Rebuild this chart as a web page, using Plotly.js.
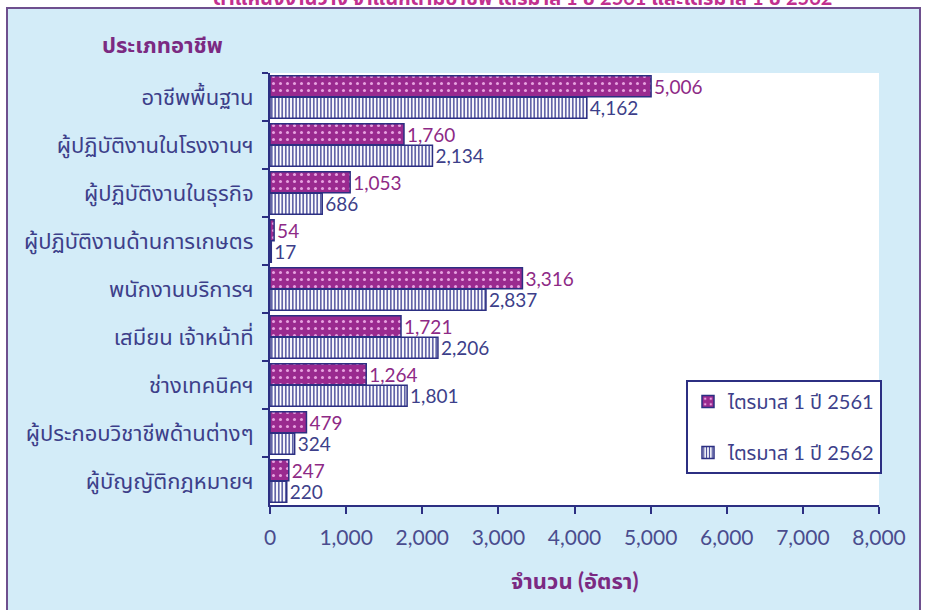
<!DOCTYPE html>
<html>
<head>
<meta charset="utf-8">
<script src="https://cdn.plot.ly/plotly-3.0.1.min.js"></script>
<style>html,body{margin:0;padding:0;background:#fff;}#chart{width:926px;height:610px;}</style>
</head>
<body>
<div id="chart"></div>
<script>
const categories = [
  'อาชีพพื้นฐาน',
  'ผู้ปฏิบัติงานในโรงงานฯ',
  'ผู้ปฏิบัติงานในธุรกิจ',
  'ผู้ปฏิบัติงานด้านการเกษตร',
  'พนักงานบริการฯ',
  'เสมียน เจ้าหน้าที่',
  'ช่างเทคนิคฯ',
  'ผู้ประกอบวิชาชีพด้านต่างๆ',
  'ผู้บัญญัติกฎหมายฯ'
];
const values2561 = [5006, 1760, 1053, 54, 3316, 1721, 1264, 479, 247];
const values2562 = [4162, 2134, 686, 17, 2837, 2206, 1801, 324, 220];
const seriesNames = ['ไตรมาส 1 ปี 2561', 'ไตรมาส 1 ปี 2562'];
const xTicks = [0, 1000, 2000, 3000, 4000, 5000, 6000, 7000, 8000];
const titleText = 'ตำแหน่งงานว่าง จำแนกตามอาชีพ ไตรมาส 1 ปี 2561 และไตรมาส 1 ปี 2562';
const yTitle = 'ประเภทอาชีพ';
const xTitle = 'จำนวน (อัตรา)';

const FONT = "Lato, 'Noto Sans Thai', 'Noto Sans', sans-serif";
const NAVY = '#2c2f82';
const PURPLE = '#8e2a86';

const traces = [
  {
    type: 'bar', orientation: 'h', name: seriesNames[0], legendgroup: 'a',
    y: categories, x: values2561,
    marker: {color: '#9a2a8f', line: {color: NAVY, width: 1.5},
      pattern: {shape: '.', fgcolor: '#e7a2e0', bgcolor: '#9a2a8f', size: 7, solidity: 0.15}},
    texttemplate: '%{x:,.0f}', textposition: 'outside', cliponaxis: false, constraintext: 'none',
    textfont: {family: FONT, size: 19, color: PURPLE},
    hoverinfo: 'skip'
  },
  {
    type: 'bar', orientation: 'h', name: seriesNames[1], legendgroup: 'b',
    y: categories, x: values2562,
    marker: {color: '#ffffff', line: {color: NAVY, width: 1.5},
      pattern: {shape: '|', fgcolor: '#3a3d92', bgcolor: '#ffffff', size: 3.5, solidity: 0.4}},
    texttemplate: '%{x:,.0f}', textposition: 'outside', cliponaxis: false, constraintext: 'none',
    textfont: {family: FONT, size: 19, color: '#3d3f8a'},
    hoverinfo: 'skip'
  }
];

const L = 270, R = 47, T = 73, B = 105;
const W = 926 - L - R, H = 610 - T - B;
const px = v => (v - L) / W;
const py = v => (610 - B - v) / H;

const layout = {
  width: 926, height: 610,
  margin: {l: L, r: R, t: T, b: B, pad: 0},
  paper_bgcolor: '#ffffff',
  plot_bgcolor: '#ffffff',
  barmode: 'group', bargap: 0.1, bargroupgap: 0.03,
  font: {family: FONT, color: '#3d3f8a'},
  showlegend: true,
  legend: {
    x: px(882), y: py(380), xanchor: 'right', yanchor: 'top',
    bgcolor: '#ffffff', bordercolor: NAVY, borderwidth: 2,
    font: {family: FONT, size: 20, color: '#3d3f8a'},
    tracegroupgap: 22, traceorder: 'grouped'
  },
  xaxis: {
    range: [0, 8000], tickvals: xTicks, tickformat: ',d',
    showgrid: false, zeroline: false,
    showline: true, linecolor: NAVY, linewidth: 2,
    ticks: 'outside', ticklen: 7, tickwidth: 2, tickcolor: NAVY,
    ticklabelstandoff: 6,
    tickfont: {family: FONT, size: 21, color: '#4a4c8e'},
    fixedrange: true
  },
  yaxis: {
    type: 'category', autorange: 'reversed',
    showgrid: false, zeroline: false,
    showline: true, linecolor: NAVY, linewidth: 2,
    ticks: 'outside', ticklen: 6, tickwidth: 2, tickcolor: NAVY,
    tickson: 'boundaries',
    ticklabelstandoff: 10,
    tickfont: {family: FONT, size: 22, color: '#3d3f8a'},
    fixedrange: true
  },
  shapes: [
    {type: 'rect', xref: 'paper', yref: 'paper', layer: 'below',
      x0: px(7), x1: px(920), y0: py(640), y1: py(8),
      fillcolor: '#d3ecf8', line: {color: '#6e4f8e', width: 2}},
    {type: 'rect', xref: 'paper', yref: 'paper', layer: 'below',
      x0: 0, x1: 1, y0: 0, y1: 1,
      fillcolor: '#ffffff', line: {width: 0}}
  ],
  annotations: [
    {text: '<b>' + titleText + '</b>', xref: 'paper', yref: 'paper',
      x: px(522), y: py(-3), xanchor: 'center', yanchor: 'middle', showarrow: false,
      font: {family: FONT, size: 20, color: '#c2308f'}},
    {text: '<b>' + yTitle + '</b>', xref: 'paper', yref: 'paper',
      x: px(162), y: py(45), xanchor: 'center', yanchor: 'middle', showarrow: false,
      font: {family: FONT, size: 22, color: '#7b2a82'}},
    {text: '<b>' + xTitle + '</b>', xref: 'paper', yref: 'paper',
      x: px(574), y: py(580), xanchor: 'center', yanchor: 'middle', showarrow: false,
      font: {family: FONT, size: 22, color: '#7b2a82'}}
  ]
};

Plotly.newPlot('chart', traces, layout, {displayModeBar: false, staticPlot: true});
</script>
</body>
</html>
